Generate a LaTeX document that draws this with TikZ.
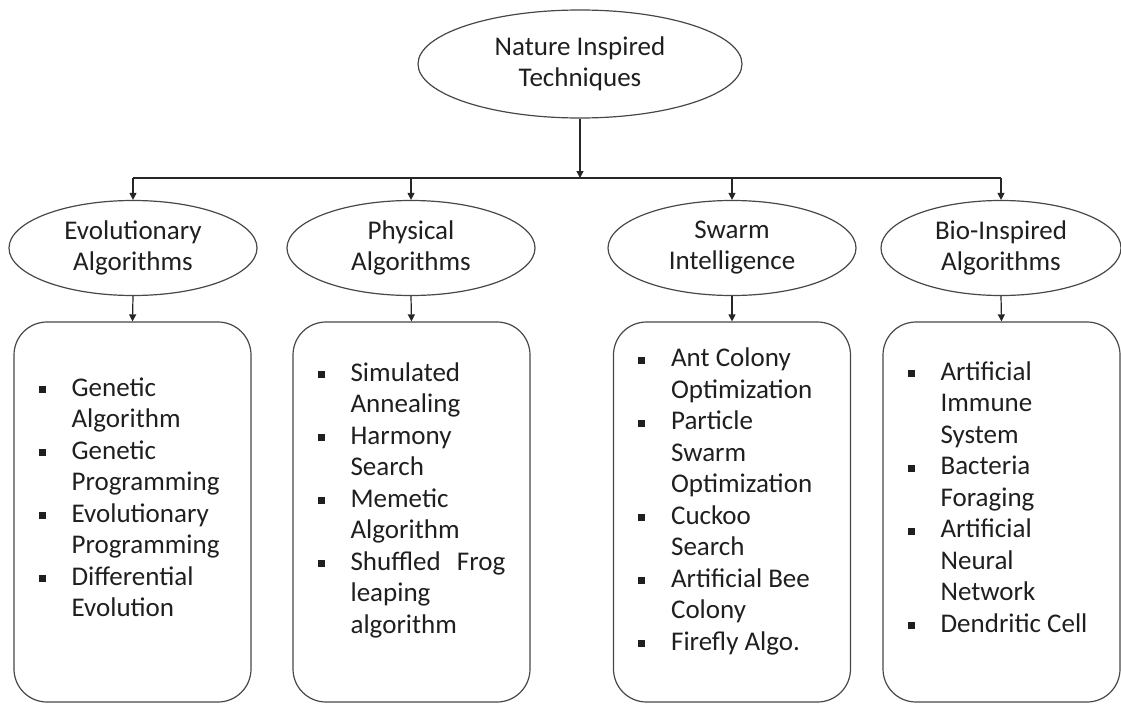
\documentclass[tikz,border=0pt]{standalone}
\usepackage{fontspec}
\setmainfont{Carlito}
\usetikzlibrary{shapes.geometric,arrows.meta}

% small square bullet and a two-column bullet list
\newcommand{\sqb}{\rule[3pt]{7pt}{7pt}}
\newcommand{\blist}[1]{\begin{tabular}{@{}p{33pt}@{}l@{}}#1\end{tabular}}

\tikzset{
  shapeline/.style={draw=black!72, line width=1.2pt},
  ellnode/.style={shapeline, ellipse, inner sep=0pt, align=center,
    text=black!88, font=\fontsize{27}{31}\selectfont},
  listbox/.style={shapeline, rectangle, rounded corners=33pt,
    minimum width=237pt, minimum height=380pt, inner sep=0pt},
  listtext/.style={inner sep=0pt, anchor=west, text=black!88,
    font=\fontsize{27}{31.5}\selectfont},
  conn/.style={draw=black!85, line width=1.2pt},
  arr/.style={conn, -{Triangle[length=7pt,width=7pt]}},
}

\begin{document}
\begin{tikzpicture}[x=1pt, y=-1pt]
\useasboundingbox (0,0) rectangle (1121,704);

% root
\node[ellnode, minimum width=324pt, minimum height=108pt] (root) at (580,64)
  {Nature Inspired\\Techniques};

% categories
\node[ellnode, minimum width=248pt, minimum height=95pt] (evo) at (133,248)
  {Evolutionary\\Algorithms};
\node[ellnode, minimum width=248pt, minimum height=95pt] (phy) at (411,248)
  {Physical\\Algorithms};
\node[ellnode, minimum width=248pt, minimum height=95pt] (swa) at (732,248)
  {Swarm\\Intelligence};
\node[ellnode, minimum width=240pt, minimum height=95pt] (bio) at (1001,248)
  {Bio-Inspired\\Algorithms};

% bus line
\coordinate (busL) at (133,178);
\coordinate (busR) at (1001,178);
\draw[arr] (root.south) -- (root.south |- busL);
\draw[conn] (busL) -- (busR);
\foreach \n in {evo,phy,swa,bio}
  \draw[arr] (\n.north |- busL) -- (\n.north);

% method boxes
\node[listbox] (b1) at (132.5,512) {};
\node[listbox] (b2) at (411.5,512) {};
\node[listbox] (b3) at (732,512) {};
\node[listbox] (b4) at (1001.5,512) {};

\foreach \n/\b in {evo/b1,phy/b2,swa/b3,bio/b4}
  \draw[arr] (\n.south) -- (\b.north);

% lists
\node[listtext] (l1) at ([xshift=25pt]b1.west |- 0,500) {\blist{%
  \sqb & Genetic\\ & Algorithm\\
  \sqb & Genetic\\ & Programming\\
  \sqb & Evolutionary\\ & Programming\\
  \sqb & Differential\\ & Evolution}};
\node[listtext] (l2) at ([xshift=25pt]b2.west |- 0,501) {\blist{%
  \sqb & Simulated\\ & Annealing\\
  \sqb & Harmony\\ & Search\\
  \sqb & Memetic\\ & Algorithm\\
  \sqb & Shuffled\hspace{10pt} Frog\\ & leaping\\ & algorithm}};
\node[listtext] (l3) at ([xshift=25pt]b3.west |- 0,502) {\blist{%
  \sqb & Ant Colony\\ & Optimization\\
  \sqb & Particle\\ & Swarm\\ & Optimization\\
  \sqb & Cuckoo\\ & Search\\
  \sqb & Artificial Bee\\ & Colony\\
  \sqb & Firefly Algo.}};
\node[listtext] (l4) at ([xshift=25pt]b4.west |- 0,500) {\blist{%
  \sqb & Artificial\\ & Immune\\ & System\\
  \sqb & Bacteria\\ & Foraging\\
  \sqb & Artificial\\ & Neural\\ & Network\\
  \sqb & Dendritic Cell}};
\end{tikzpicture}
\end{document}
